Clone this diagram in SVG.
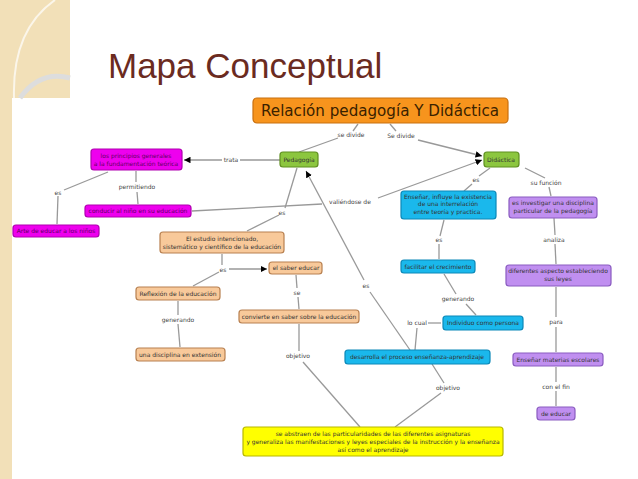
<svg xmlns="http://www.w3.org/2000/svg" width="638" height="479" viewBox="0 0 638 479">
<defs>
<marker id="a" viewBox="0 0 10 10" refX="10" refY="5" markerWidth="5" markerHeight="5" orient="auto"><path d="M0,0L10,5L0,10z" fill="#000"/></marker>
<style>
text{font-family:"DejaVu Sans",sans-serif;font-size:6px;fill:#333;text-anchor:middle}
.n rect{stroke-width:1.2}
.o rect{fill:#f7941d;stroke:#c87010}
.g rect{fill:#8cc63f;stroke:#5f8f20}
.m rect{fill:#ee00ee;stroke:#b000b0}
.p rect{fill:#f8c99a;stroke:#b88050}
.b rect{fill:#1ab8ec;stroke:#0a88b8}
.v rect{fill:#c08ff0;stroke:#8a5cc0}
.y rect{fill:#ffff00;stroke:#b8b800}
.m text{fill:#600060}
.l line,.l polyline{stroke:#999;stroke-width:1.3;fill:none}
.lb{fill:#444}
</style>
</defs>
<rect width="638" height="479" fill="#fff"/>
<rect x="0" y="0" width="12" height="479" fill="#f2e0b8"/>
<rect x="0" y="0" width="70" height="98" fill="#f2e0b8"/>
<path d="M55,0 Q12,30 14,98" stroke="#fff" stroke-width="2" fill="none" opacity="0.7"/>
<path d="M20,98 Q40,70 70,78" stroke="#ddd" stroke-width="5" fill="none"/>
<text x="108" y="78" style="font-family:'Liberation Sans',sans-serif;font-size:35px;fill:#6b2b1f;text-anchor:start">Mapa Conceptual</text>

<g class="l" id="connectors">
<polyline points="338,138 299,152"/>
<polyline points="390,124 396,131"/><polyline points="358,124 353,131"/>
<line x1="418" y1="140" x2="482" y2="156" marker-end="url(#a)"/>
<line x1="280" y1="160" x2="240" y2="160"/><line x1="222" y1="160" x2="184" y2="160" marker-end="url(#a)"/>
<line x1="136" y1="171" x2="136" y2="182"/><line x1="137" y1="192" x2="138" y2="204"/>
<line x1="108" y1="172" x2="64" y2="190"/><line x1="58" y1="196" x2="57" y2="224"/>
<line x1="192" y1="211" x2="322" y2="204"/><line x1="378" y1="198" x2="482" y2="160" marker-end="url(#a)"/>
<line x1="297" y1="168" x2="285" y2="208"/><line x1="279" y1="215" x2="247" y2="231"/>
<line x1="222" y1="254" x2="222" y2="265"/><line x1="229" y1="269" x2="267" y2="269" marker-end="url(#a)"/>
<line x1="219" y1="272" x2="193" y2="286"/>
<line x1="178" y1="301" x2="178" y2="315"/><line x1="178" y1="324" x2="180" y2="347"/>
<line x1="296" y1="275" x2="297" y2="288"/><line x1="298" y1="297" x2="299" y2="309"/>
<line x1="299" y1="324" x2="299" y2="351"/><line x1="303" y1="362" x2="360" y2="427"/>
<line x1="410" y1="350" x2="370" y2="292"/><line x1="364" y1="280" x2="306" y2="171" marker-end="url(#a)"/>
<line x1="490" y1="168" x2="479" y2="176"/><line x1="472" y1="184" x2="464" y2="191"/>
<line x1="525" y1="168" x2="545" y2="178"/><line x1="549" y1="187" x2="551" y2="196"/>
<line x1="444" y1="220" x2="440" y2="236"/><line x1="439" y1="244" x2="439" y2="259"/>
<line x1="444" y1="274" x2="456" y2="294"/><line x1="466" y1="304" x2="476" y2="315"/>
<line x1="441" y1="323" x2="428" y2="323"/><line x1="417" y1="328" x2="415" y2="350"/>
<line x1="432" y1="364" x2="444" y2="383"/><line x1="441" y1="393" x2="395" y2="427"/>
<line x1="554" y1="218" x2="555" y2="235"/><line x1="555" y1="244" x2="556" y2="264"/>
<line x1="556" y1="287" x2="556" y2="317"/><line x1="556" y1="327" x2="556" y2="352"/>
<line x1="556" y1="367" x2="556" y2="382"/><line x1="556" y1="391" x2="556" y2="406"/>
<text class="lb" x="351" y="137">se divide</text>
<text class="lb" x="401" y="138">Se divide</text>
<text class="lb" x="231" y="162">trata</text>
<text class="lb" x="137" y="189">permitiendo</text>
<text class="lb" x="58" y="195">es</text>
<text class="lb" x="350" y="204">valiéndose de</text>
<text class="lb" x="282" y="215">es</text>
<text class="lb" x="223" y="272">es</text>
<text class="lb" x="178" y="322">generando</text>
<text class="lb" x="297" y="295">se</text>
<text class="lb" x="298" y="358">objetivo</text>
<text class="lb" x="366" y="288">es</text>
<text class="lb" x="476" y="182">es</text>
<text class="lb" x="546" y="185">su función</text>
<text class="lb" x="439" y="242">es</text>
<text class="lb" x="458" y="301">generando</text>
<text class="lb" x="417" y="325">lo cual</text>
<text class="lb" x="448" y="390">objetivo</text>
<text class="lb" x="554" y="242">analiza</text>
<text class="lb" x="556" y="324">para</text>
<text class="lb" x="556" y="389">con el fin</text>
</g>

<g id="titulo" class="n o"><rect x="253" y="98" width="255" height="25" rx="4"/><text x="380" y="116" textLength="238" lengthAdjust="spacingAndGlyphs" style="font-size:15px;fill:#3a2200">Relación pedagogía Y Didáctica</text></g>
<g id="pedagogia" class="n g"><rect x="280" y="152" width="38" height="15" rx="3"/><text x="299" y="162">Pedagogía</text></g>
<g id="didactica" class="n g"><rect x="484" y="152" width="35" height="15" rx="3"/><text x="501" y="162">Didáctica</text></g>
<g id="principios" class="n m"><rect x="91" y="149" width="91" height="21" rx="3"/><text x="136" y="158">los principios generales</text><text x="136" y="166">a la fundamentación teórica</text></g>
<g id="conducir" class="n m"><rect x="85" y="205" width="106" height="12" rx="3"/><text x="138" y="213">conducir al niño en su educación</text></g>
<g id="arte" class="n m"><rect x="13" y="225" width="86" height="12" rx="3"/><text x="56" y="233">Arte de educar a los niños</text></g>
<g id="estudio" class="n p"><rect x="160" y="232" width="124" height="21" rx="3"/><text x="222" y="241">El estudio intencionado,</text><text x="222" y="249">sistemático y científico de la educación</text></g>
<g id="saber" class="n p"><rect x="269" y="262" width="53" height="12" rx="3"/><text x="296" y="270">el saber educar</text></g>
<g id="reflexion" class="n p"><rect x="136" y="287" width="84" height="13" rx="3"/><text x="178" y="296">Reflexión de la educación</text></g>
<g id="disciplina" class="n p"><rect x="136" y="348" width="89" height="13" rx="3"/><text x="180" y="357">una disciplina en extensión</text></g>
<g id="convierte" class="n p"><rect x="239" y="310" width="120" height="13" rx="3"/><text x="299" y="319">convierte en saber sobre la educación</text></g>
<g id="ensenar" class="n b"><rect x="401" y="191" width="95" height="28" rx="3"/><text x="448" y="199">Enseñar, influye la existencia</text><text x="448" y="206">de una interrelación</text><text x="448" y="214">entre teoría y practica.</text></g>
<g id="facilitar" class="n b"><rect x="401" y="260" width="74" height="13" rx="3"/><text x="438" y="269">facilitar el crecimiento</text></g>
<g id="individuo" class="n b"><rect x="443" y="316" width="80" height="14" rx="3"/><text x="483" y="325">Individuo como persona</text></g>
<g id="desarrolla" class="n b"><rect x="345" y="350" width="145" height="14" rx="3"/><text x="417" y="359">desarrolla el proceso enseñanza-aprendizaje</text></g>
<g id="investigar" class="n v"><rect x="509" y="197" width="88" height="21" rx="3"/><text x="553" y="205">es investigar una disciplina</text><text x="553" y="213">particular de la pedagogía</text></g>
<g id="aspectos" class="n v"><rect x="506" y="265" width="105" height="21" rx="3"/><text x="558" y="273">diferentes aspecto estableciendo</text><text x="558" y="281">sus leyes</text></g>
<g id="materias" class="n v"><rect x="513" y="353" width="90" height="13" rx="3"/><text x="558" y="362">Enseñar materias escolares</text></g>
<g id="educar" class="n v"><rect x="537" y="407" width="38" height="13" rx="3"/><text x="556" y="416">de educar</text></g>
<g id="abstraen" class="n y"><rect x="243" y="427" width="260" height="29" rx="3"/><text x="373" y="436">se abstraen de las particularidades de las diferentes asignaturas</text><text x="373" y="444">y generaliza las manifestaciones y leyes especiales de la instrucción y la enseñanza</text><text x="373" y="452">así como el aprendizaje</text></g>
</svg>
